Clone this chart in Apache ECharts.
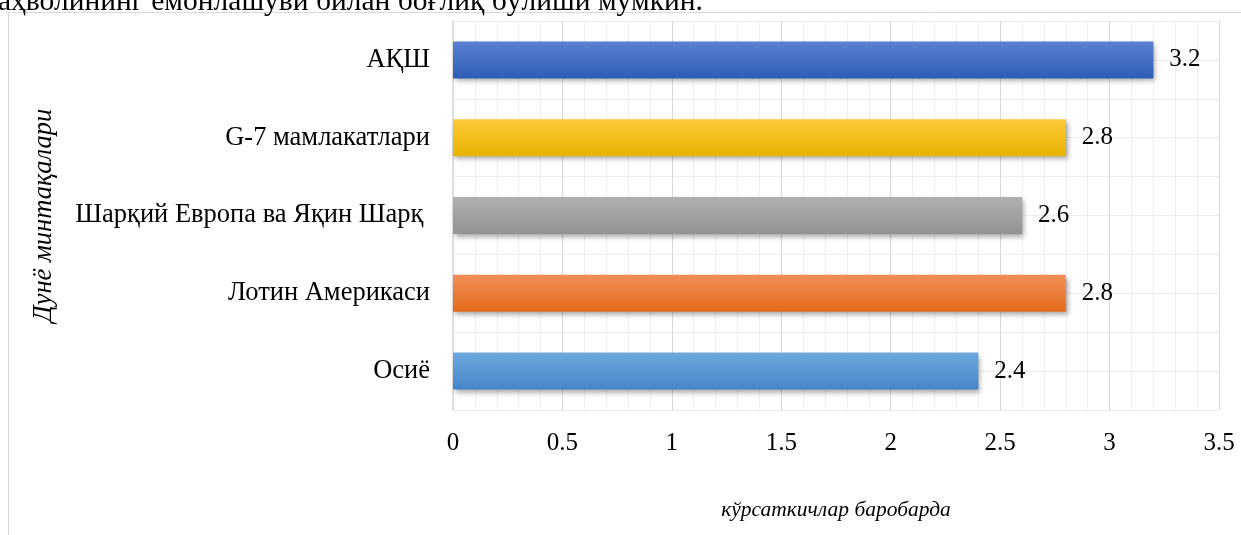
<!DOCTYPE html>
<html>
<head>
<meta charset="utf-8">
<script src="https://cdn.jsdelivr.net/npm/echarts@6/dist/echarts.min.js"></script>
<style>
  html, body { margin: 0; padding: 0; background: #fff; }
  #chart { width: 1241px; height: 535px; }
</style>
</head>
<body>
<div id="chart"></div>
<script>
var categories = ['АҚШ', 'G-7 мамлакатлари', 'Шарқий Европа ва Яқин Шарқ ', 'Лотин Америкаси', 'Осиё'];
var values = [3.2, 2.8, 2.6, 2.8, 2.4];
var xTicks = { min: 0, max: 3.5, interval: 0.5 };
var topText = 'аҳволининг ёмонлашуви билан боғлиқ бўлиши мумкин.';

// top / bottom colour of each bar gradient
var barColors = [
  ['#5b82d2', '#2e5db6'],
  ['#ffca3a', '#e8b200'],
  ['#b0b0b0', '#939393'],
  ['#f18f58', '#e46a1a'],
  ['#70a8de', '#4386c8']
];

var serif = '"Liberation Serif", "Times New Roman", serif';

function gradient(c) {
  return new echarts.graphic.LinearGradient(0, 0, 0, 1, [
    { offset: 0, color: c[0] },
    { offset: 1, color: c[1] }
  ]);
}

var data = values.map(function (v, i) {
  return {
    value: v,
    itemStyle: {
      color: gradient(barColors[i]),
      shadowColor: 'rgba(0,0,0,0.35)',
      shadowBlur: 5,
      shadowOffsetX: 2,
      shadowOffsetY: 3
    }
  };
});

var option = {
  backgroundColor: '#fff',
  animation: false,
  graphic: [
    {
      type: 'rect',
      shape: { x: 8.5, y: 12.5, width: 1400, height: 700 },
      style: { fill: 'none', stroke: '#d9d9d9', lineWidth: 1 }
    },
    {
      type: 'text',
      left: -2,
      top: -13,
      style: { text: topText, font: '29.5px ' + serif, fill: '#000' }
    }
  ],
  grid: { left: 453, top: 21, right: 22, bottom: 125, containLabel: false },
  xAxis: {
    type: 'value',
    min: xTicks.min,
    max: xTicks.max,
    interval: xTicks.interval,
    name: 'кўрсаткичлар баробарда',
    nameLocation: 'middle',
    nameGap: 89,
    nameTextStyle: { fontFamily: serif, fontStyle: 'italic', fontSize: 21.5, color: '#000' },
    axisLine: { show: false },
    axisTick: { show: false },
    axisLabel: { fontFamily: serif, fontSize: 25, color: '#000', margin: 21 },
    splitLine: { show: true, lineStyle: { color: '#d9d9d9', width: 1 } },
    minorTick: { show: false, splitNumber: 5 },
    minorSplitLine: { show: true, lineStyle: { color: '#efefef', width: 1 } }
  },
  yAxis: [
    {
      type: 'category',
      data: categories,
      inverse: true,
      name: 'Дунё минтақалари',
      nameLocation: 'middle',
      nameGap: 395,
      nameRotate: 90,
      nameTextStyle: { fontFamily: serif, fontStyle: 'italic', fontSize: 26.5, color: '#000' },
      axisLine: { show: true, lineStyle: { color: '#d9d9d9', width: 1.5 } },
      axisTick: { show: false },
      axisLabel: { fontFamily: serif, fontSize: 26.5, color: '#000', margin: 23 },
      splitLine: { show: false }
    },
    {
      type: 'value',
      min: 0,
      max: 5,
      interval: 0.5,
      show: true,
      axisLine: { show: false },
      axisTick: { show: false },
      axisLabel: { show: false },
      splitLine: { show: true, lineStyle: { color: '#ececec', width: 1 } }
    }
  ],
  series: [
    {
      type: 'bar',
      yAxisIndex: 0,
      data: data,
      barWidth: 37,
      label: {
        show: true,
        position: 'right',
        distance: 16,
        fontFamily: serif,
        fontSize: 25,
        color: '#000'
      }
    }
  ]
};

var myChart = echarts.init(document.getElementById('chart'));
myChart.setOption(option);
window.addEventListener('resize', function () {
  myChart.resize();
});
</script>
</body>
</html>
